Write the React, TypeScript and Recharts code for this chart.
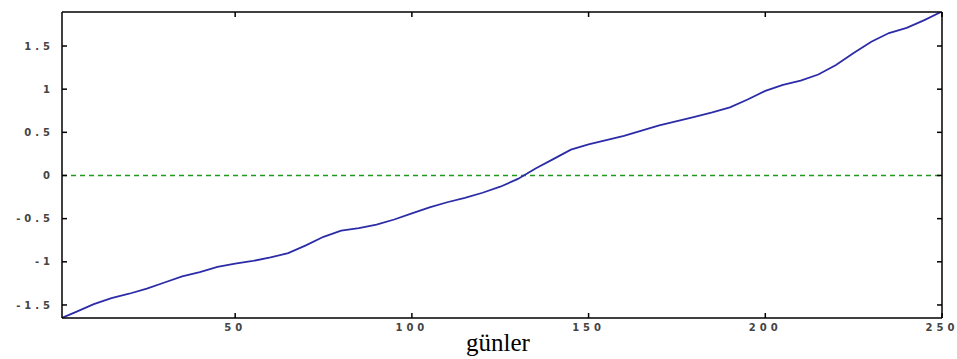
import React from "react";
import { Line, LineChart, ReferenceLine, XAxis, YAxis } from "recharts";

// cumulative series, sampled every 5 days
const days = [
  1, 5, 10, 15, 20, 25, 30, 35, 40, 45, 50, 55, 60, 65, 70, 75, 80, 85, 90, 95, 100,
  105, 110, 115, 120, 125, 130, 135, 140, 145, 150, 155, 160, 165, 170, 175, 180, 185,
  190, 195, 200, 205, 210, 215, 220, 225, 230, 235, 240, 245, 250,
];
const values = [
  -1.65, -1.58, -1.49, -1.42, -1.37, -1.31, -1.24, -1.17, -1.12, -1.06, -1.02, -0.99,
  -0.95, -0.9, -0.81, -0.71, -0.64, -0.61, -0.57, -0.51, -0.44, -0.37, -0.31, -0.26,
  -0.2, -0.13, -0.04, 0.08, 0.19, 0.3, 0.36, 0.41, 0.46, 0.52, 0.58, 0.63, 0.68, 0.73,
  0.79, 0.88, 0.98, 1.05, 1.1, 1.17, 1.28, 1.42, 1.55, 1.65, 1.71, 1.8, 1.9,
];
const xTicks = [50, 100, 150, 200, 250];
const yTicks = [-1.5, -1, -0.5, 0, 0.5, 1, 1.5];

const data = days.map((d, i) => ({ day: d, v: values[i] }));

const tickFont = {
  fontFamily: "DejaVu Sans",
  fontSize: 10,
  fontWeight: 700,
  letterSpacing: 4,
  fill: "#444",
};
const noLabel = () => <g />;

export default function App() {
  return (
    <div style={{ position: "absolute", left: 0, top: 0, background: "#fff" }}>
      <LineChart width={957} height={359} data={data} margin={{ top: 0, right: 0, bottom: 0, left: 0 }}>
        <XAxis
          xAxisId="b"
          dataKey="day"
          type="number"
          domain={[1, 250]}
          ticks={xTicks}
          height={41}
          tickSize={-5}
          tickMargin={11}
          stroke="#000"
          strokeWidth={1.5}
          tick={tickFont}
          interval={0}
          label={{
            value: "günler",
            position: "insideBottom",
            offset: 8,
            dx: -4,
            style: { fontFamily: "Liberation Serif", fontSize: 25, fill: "#000" },
          }}
        />
        <XAxis
          xAxisId="t"
          orientation="top"
          dataKey="day"
          type="number"
          domain={[1, 250]}
          ticks={xTicks}
          height={12}
          tickSize={-5}
          stroke="#000"
          strokeWidth={1.5}
          tick={noLabel}
        />
        <YAxis
          yAxisId="l"
          type="number"
          domain={[-1.651, 1.894]}
          ticks={yTicks}
          width={62}
          tickSize={-5}
          tickMargin={13}
          stroke="#000"
          strokeWidth={1.5}
          tick={tickFont}
          interval={0}
          allowDataOverflow
        />
        <YAxis
          yAxisId="r"
          orientation="right"
          type="number"
          domain={[-1.651, 1.894]}
          ticks={yTicks}
          width={15}
          tickSize={-5}
          stroke="#000"
          strokeWidth={1.5}
          tick={noLabel}
          allowDataOverflow
        />
        <ReferenceLine
          xAxisId="b"
          yAxisId="l"
          y={0}
          stroke="#1f9a1f"
          strokeOpacity={1}
          strokeDasharray="5 4"
          strokeWidth={1.5}
        />
        <Line
          xAxisId="b"
          yAxisId="l"
          type="linear"
          dataKey="v"
          stroke="#2c2ca8"
          strokeWidth={1.8}
          dot={false}
          isAnimationActive={false}
        />
      </LineChart>
    </div>
  );
}
